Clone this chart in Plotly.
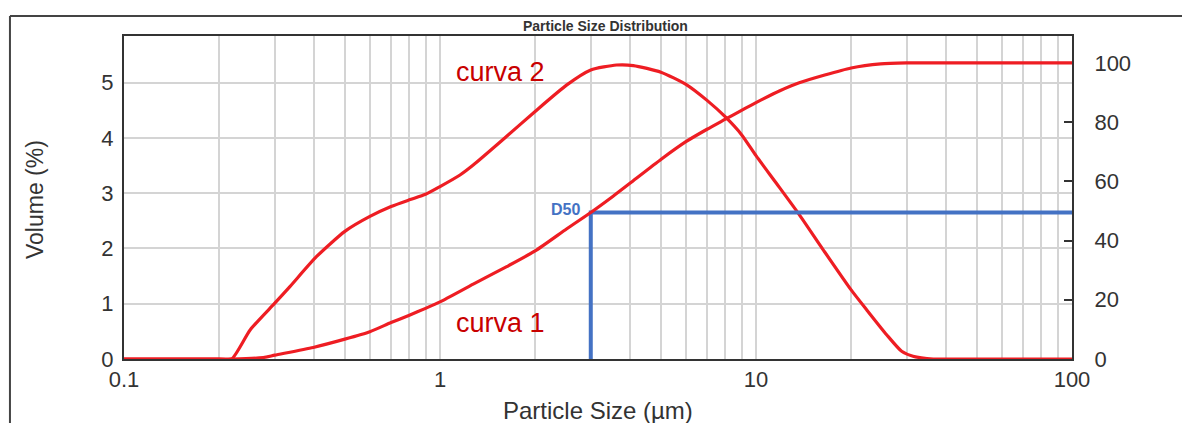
import plotly.graph_objects as go

# Frequency curve ("curva 2"), volume % per size class, left axis
freq_size = [0.1, 0.15, 0.2, 0.219, 0.251, 0.3, 0.335, 0.407, 0.5, 0.6, 0.7, 0.8, 0.9,
             1.0, 1.157, 1.274, 1.626, 2.0, 2.52, 3.0, 3.62, 4.09, 5.0, 6.0,
             7.0, 8.0, 9.0, 10.0, 11.6, 13.6, 16.3, 20.0, 22.4, 25.9, 28.9,
             31.4, 36.4, 45.0, 70.0, 100.0]
freq_vol = [0, 0, 0, 0, 0.53, 1.01, 1.31, 1.855, 2.31, 2.58, 2.76, 2.88, 2.98,
            3.12, 3.33, 3.51, 4.03, 4.48, 4.96, 5.23, 5.32, 5.31, 5.19, 4.97,
            4.68, 4.38, 4.06, 3.68, 3.18, 2.64, 1.98, 1.25, 0.89, 0.44, 0.14,
            0.05, 0.0, 0, 0, 0]

# Cumulative curve ("curva 1"), cumulative volume %, right axis
cum_size = [0.1, 0.15, 0.22, 0.276, 0.3, 0.397, 0.5, 0.6, 0.7, 0.8, 0.9, 1.0, 1.274,
            1.626, 2.0, 2.52, 3.0, 3.53, 4.04, 5.0, 6.0, 7.0, 8.0, 9.0, 10.0,
            11.9, 13.7, 20.0, 24.8, 30.0, 45.0, 70.0, 100.0]
cum_vol = [0, 0, 0, 0.5, 1.3, 3.9, 6.7, 9.2, 12.3, 14.8, 17.1, 19.3, 25.3,
           31.2, 36.5, 44.0, 49.5, 55.0, 59.8, 67.4, 73.4, 77.6, 81.0, 84.0, 86.6,
           90.6, 93.3, 98.3, 99.7, 100, 100, 100, 100]

# Median marker
d50_size = 3.0
d50_pct = 49.5

# Axis ticks
x_grid_vals = [m * 10 ** e for e in (-1, 0, 1) for m in range(1, 10)] + [100]
x_tick_text = {0.1: "0.1", 1: "1", 10: "10", 100: "100"}
y_left_ticks = [0, 1, 2, 3, 4, 5]
y_right_ticks = [0, 20, 40, 60, 80, 100]

FONT = "Liberation Sans, Arial, sans-serif"
RED = "#ee1d23"
TEXT_RED = "#c80000"
BLUE = "#4472c4"
INK = "#333333"
GRID = "#d4d4d4"

fig = go.Figure()

fig.add_trace(go.Scatter(
    x=[100, d50_size, d50_size], y=[d50_pct, d50_pct, 0], yaxis="y2",
    mode="lines", line=dict(color=BLUE, width=4), hoverinfo="skip",
))
fig.add_trace(go.Scatter(
    x=cum_size, y=cum_vol, yaxis="y2", mode="lines",
    line=dict(color=RED, width=3.2, shape="spline", smoothing=0.6), name="curva 1",
))
fig.add_trace(go.Scatter(
    x=freq_size, y=freq_vol, yaxis="y", mode="lines",
    line=dict(color=RED, width=3.2, shape="spline", smoothing=0.6), name="curva 2",
))

tick_text = []
for v in x_grid_vals:
    label = ""
    for k, t in x_tick_text.items():
        if abs(k - v) < 1e-9:
            label = t
    tick_text.append(label)

fig.update_layout(
    width=1182, height=423,
    margin=dict(l=124, r=110, t=36, b=64),
    paper_bgcolor="white", plot_bgcolor="white",
    showlegend=False,
    font=dict(family=FONT, color=INK),
    xaxis=dict(
        type="log", range=[-1, 2],
        tickmode="array", tickvals=x_grid_vals, ticktext=tick_text,
        tickfont=dict(size=22, color=INK),
        showgrid=True, gridcolor=GRID, gridwidth=2,
        showline=True, linecolor=INK, linewidth=2, mirror=True,
        ticks="", zeroline=False, layer="below traces",
        ticklabelstandoff=0,
    ),
    yaxis=dict(
        range=[0, 5.845],
        tickmode="array", tickvals=y_left_ticks,
        tickfont=dict(size=22, color=INK),
        showgrid=True, gridcolor=GRID, gridwidth=2,
        showline=True, linecolor=INK, linewidth=2, mirror=True,
        ticks="", zeroline=False, layer="below traces",
        ticklabelstandoff=4,
    ),
    yaxis2=dict(
        overlaying="y", side="right", anchor="x",
        range=[0, 109.1],
        tickmode="array", tickvals=y_right_ticks,
        tickfont=dict(size=22, color=INK),
        showgrid=False, zeroline=False,
        showline=True, linecolor=INK, linewidth=2,
        ticks="inside", ticklen=8, tickwidth=2, tickcolor=INK,
        ticklabelstandoff=16, layer="below traces",
    ),
)

# Outer frame around the whole figure
fig.add_shape(type="line", xref="paper", yref="paper",
              x0=-0.1203, x1=1.2, y0=1.0619, y1=1.0619,
              line=dict(color="#444444", width=2))
fig.add_shape(type="line", xref="paper", yref="paper",
              x0=-0.1203, x1=-0.1203, y0=1.0619, y1=-0.3,
              line=dict(color="#444444", width=2))

annotations = [
    dict(text="<b>Particle Size Distribution</b>", xref="paper", yref="paper",
         x=0.5084, y=1.031, xanchor="center", yanchor="middle", showarrow=False,
         font=dict(size=14, color=INK, family=FONT)),
    dict(text="Particle Size (µm)", xref="paper", yref="paper",
         x=0.4995, y=-0.158, xanchor="center", yanchor="middle", showarrow=False,
         font=dict(size=24, color=INK, family=FONT)),
    dict(text="Volume (%)", xref="paper", yref="paper",
         x=-0.094, y=0.495, xanchor="center", yanchor="middle", showarrow=False,
         textangle=-90, font=dict(size=23, color=INK, family=FONT)),
    dict(text="curva 2", x=0.193, y=5.2, xref="x", yref="y",
         xanchor="center", yanchor="middle", showarrow=False,
         font=dict(size=27, color=TEXT_RED, family=FONT)),
    dict(text="curva 1", x=0.19, y=0.66, xref="x", yref="y",
         xanchor="center", yanchor="middle", showarrow=False,
         font=dict(size=27, color=TEXT_RED, family=FONT)),
    dict(text="<b>D50</b>", x=0.477, y=d50_pct, xref="x", yref="y2",
         xanchor="right", yanchor="middle", xshift=-9, yshift=3, showarrow=False,
         font=dict(size=16, color=BLUE, family=FONT)),
]
fig.update_layout(annotations=annotations)

fig.write_html("out.html")
